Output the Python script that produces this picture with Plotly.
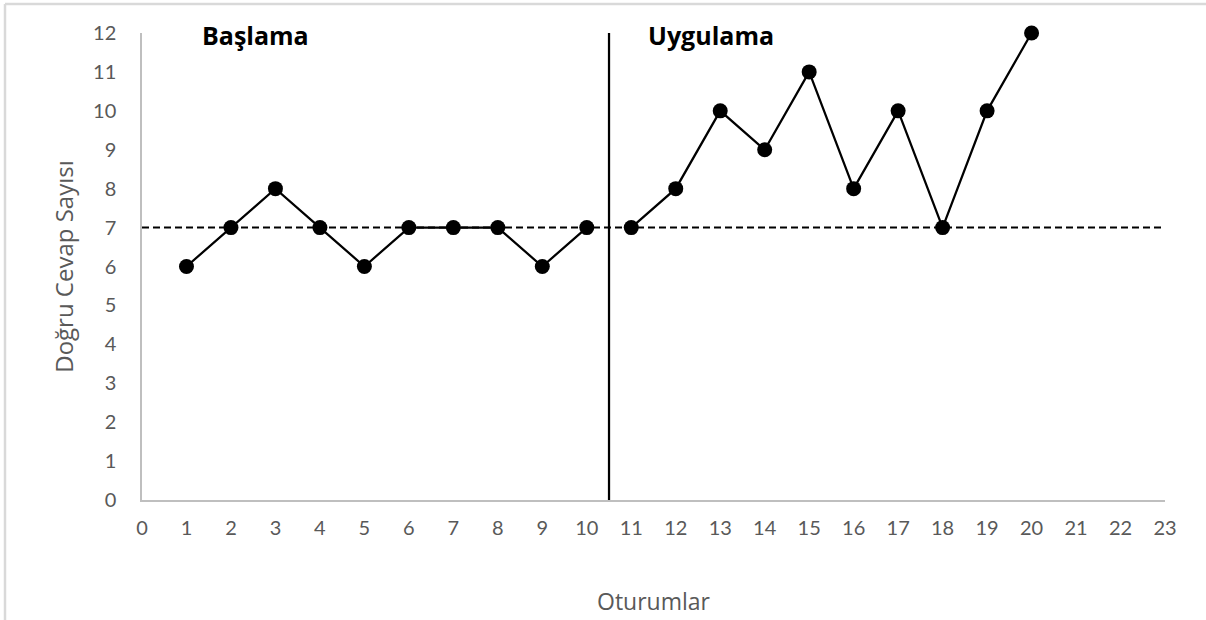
import plotly.graph_objects as go

baseline_x = [1, 2, 3, 4, 5, 6, 7, 8, 9, 10]
baseline_y = [6, 7, 8, 7, 6, 7, 7, 7, 6, 7]
treatment_x = [11, 12, 13, 14, 15, 16, 17, 18, 19, 20]
treatment_y = [7, 8, 10, 9, 11, 8, 10, 7, 10, 12]
criterion = 7
phase_change = 10.5
phase_labels = ["Başlama", "Uygulama"]
phase_label_x = [2.55, 12.8]
x_ticks = list(range(0, 24))
y_ticks = list(range(0, 13))

TICKFONT = "Lato"
TITLEFONT = "Open Sans"
GRAY = "#595959"

fig = go.Figure()
for xs, ys in [(baseline_x, baseline_y), (treatment_x, treatment_y)]:
    fig.add_trace(go.Scatter(
        x=xs, y=ys, mode="lines+markers",
        line=dict(color="black", width=2.25),
        marker=dict(color="black", size=15),
        showlegend=False, cliponaxis=False, hoverinfo="skip"))

# criterion dashed line
fig.add_shape(type="line", xref="paper", yref="y", x0=0, x1=1, y0=criterion, y1=criterion,
              line=dict(color="black", width=2, dash="7px,4px"), layer="below")
# phase change line
fig.add_shape(type="line", xref="x", yref="y", x0=phase_change, x1=phase_change, y0=0, y1=12,
              line=dict(color="black", width=2.25))

# outer frame (partial, top & left)
fig.add_shape(type="line", xref="paper", yref="paper", x0=(5-142)/1023, x1=(1210-142)/1023,
              y0=(500-4)/467, y1=(500-4)/467, line=dict(color="#d9d9d9", width=2.5))
fig.add_shape(type="line", xref="paper", yref="paper", x0=(5-142)/1023, x1=(5-142)/1023,
              y0=(500-4)/467, y1=(500-625)/467, line=dict(color="#d9d9d9", width=2.5))

for lbl, lx in zip(phase_labels, phase_label_x):
    fig.add_annotation(x=lx, y=11.96, xref="x", yref="y", text="<b>%s</b>" % lbl,
                       showarrow=False, font=dict(family=TITLEFONT, size=25, color="black"))

fig.update_layout(
    width=1206, height=620,
    margin=dict(l=142, r=41, t=33, b=120),
    paper_bgcolor="white", plot_bgcolor="white",
    font=dict(family=TICKFONT, color=GRAY),
)
fig.update_xaxes(range=[0, 23], tickvals=x_ticks, showgrid=False, zeroline=False,
                 showline=True, linecolor="#bfbfbf", linewidth=1.5, ticks="",
                 ticklabelstandoff=9, automargin=False,
                 tickfont=dict(size=20, color=GRAY, family=TICKFONT),
                 title=dict(text="Oturumlar", font=dict(size=23, color=GRAY, family=TITLEFONT), standoff=56))
fig.update_yaxes(range=[0, 12], tickvals=y_ticks, showgrid=False, zeroline=False,
                 showline=True, linecolor="#bfbfbf", linewidth=1.5, ticks="",
                 ticklabelstandoff=20, automargin=False,
                 tickfont=dict(size=20, color=GRAY, family=TICKFONT),
                 title=dict(text="Doğru Cevap Sayısı", font=dict(size=24, color=GRAY, family=TITLEFONT), standoff=13))

fig.write_html("out.html", config={"displayModeBar": False},
               post_script="document.body.style.margin='0';")
